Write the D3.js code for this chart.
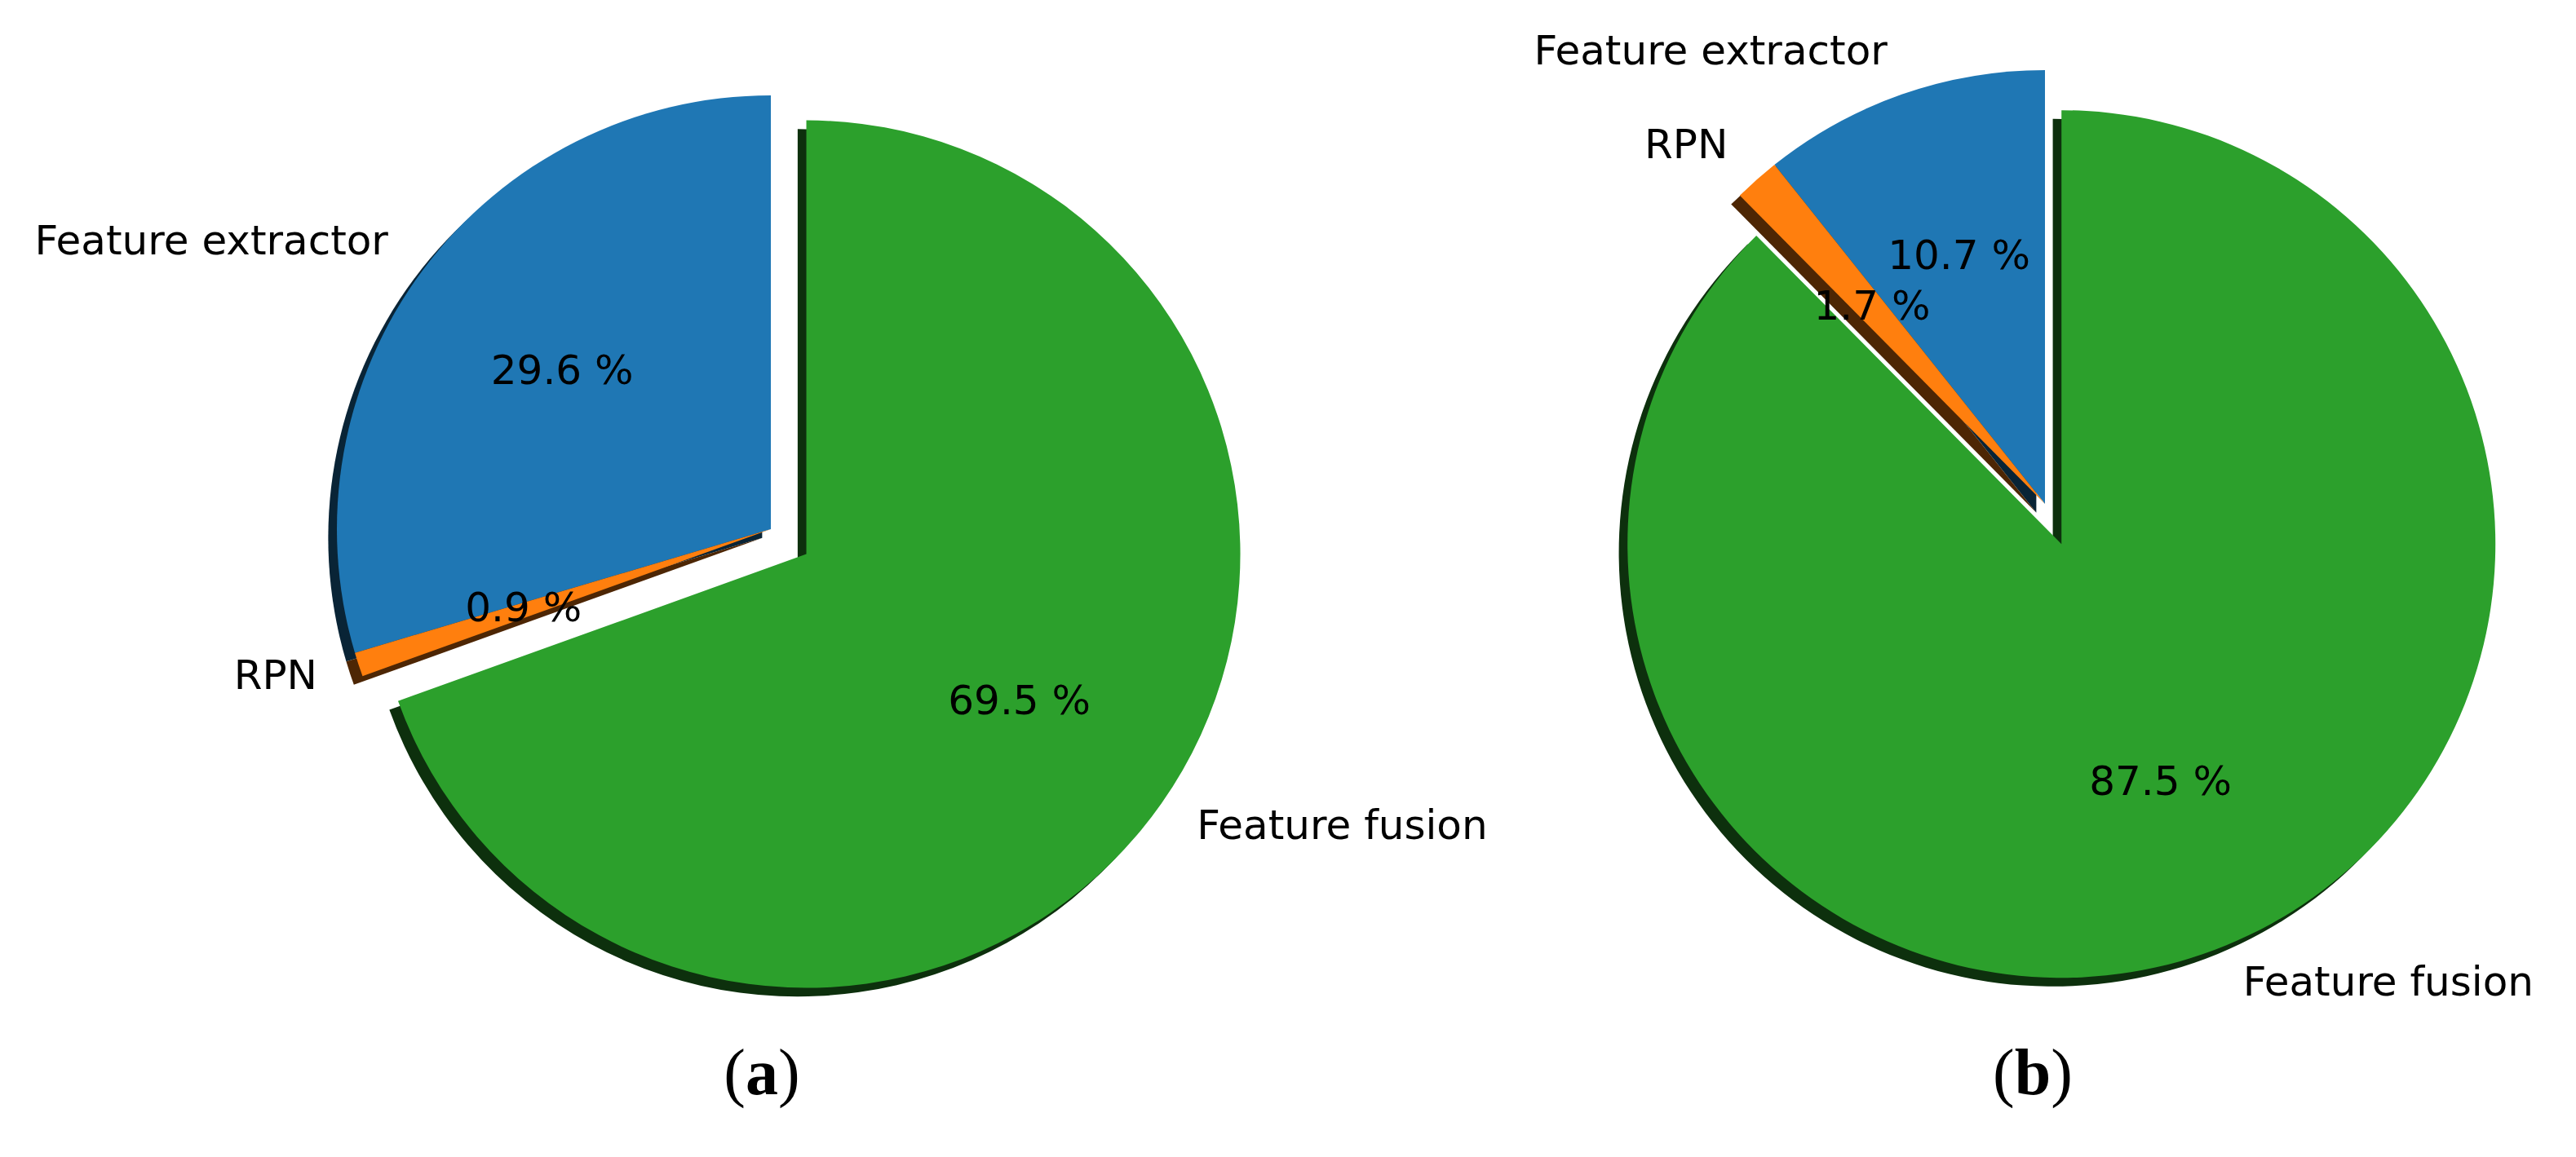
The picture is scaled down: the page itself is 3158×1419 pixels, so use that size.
<!DOCTYPE html>
<html>
<head>
<meta charset="utf-8">
<title>Runtime share pies</title>
<script src="https://d3js.org/d3.v7.min.js"></script>
<style>
  body { margin:0; background:#fff; }
  text { font-family: "DejaVu Sans", sans-serif; fill:#000; }
  .caption { font-family: "Liberation Serif", serif; }
</style>
</head>
<body>
<script>
// data
var labels = ["Feature extractor", "RPN", "Feature fusion"];
var colors = ["#1f77b4", "#ff7f0e", "#2ca02c"];
var valuesA = [29.6, 0.9, 69.5];
var valuesB = [10.7, 1.7, 87.5];
var explode = [0, 0, 0.1];
var captions = ["a", "b"];

var W = 3158, H = 1419;
var radius = 532;
var fs = 50;

var svg = d3.select("body").append("svg")
    .attr("width", W).attr("height", H);
svg.append("rect").attr("width", W).attr("height", H).attr("fill", "#fff");

// matplotlib style: start at top, go counterclockwise
var pie = d3.pie().sort(null).startAngle(0).endAngle(-2 * Math.PI);
var arc = d3.arc().innerRadius(0).outerRadius(radius);

function shade(c) {
    var r = d3.rgb(c);
    return d3.rgb(r.r * 0.3, r.g * 0.3, r.b * 0.3);
}

function drawPie(values, cx, cy, capX, cap) {
    var g = svg.append("g").attr("transform", "translate(" + cx + "," + cy + ")");
    var arcs = pie(values);
    arcs.forEach(function(d, i) {
        var m = (d.startAngle + d.endAngle) / 2;
        d.ux = Math.sin(m);
        d.uy = -Math.cos(m);
        d.ox = explode[i] * radius * d.ux;
        d.oy = explode[i] * radius * d.uy;
    });
    var sh = 0.02 * radius;

    // shadows below all wedges
    g.append("g").selectAll("path").data(arcs).enter().append("path")
        .attr("d", arc)
        .attr("transform", function(d) { return "translate(" + (d.ox - sh) + "," + (d.oy + sh) + ")"; })
        .attr("fill", function(d, i) { return shade(colors[i]); });

    g.append("g").selectAll("path").data(arcs).enter().append("path")
        .attr("d", arc)
        .attr("transform", function(d) { return "translate(" + d.ox + "," + d.oy + ")"; })
        .attr("fill", function(d, i) { return colors[i]; });

    // percentages
    g.append("g").selectAll("text").data(arcs).enter().append("text")
        .attr("x", function(d) { return d.ox + 0.6 * radius * d.ux; })
        .attr("y", function(d) { return d.oy + 0.6 * radius * d.uy; })
        .attr("dy", 0.26 * fs)
        .attr("text-anchor", "middle")
        .style("font-size", fs + "px")
        .text(function(d) { return d.value.toFixed(1) + " %"; });

    // names
    g.append("g").selectAll("text").data(arcs).enter().append("text")
        .attr("x", function(d) { return d.ox + 1.1 * radius * d.ux; })
        .attr("y", function(d) { return d.oy + 1.1 * radius * d.uy; })
        .attr("dy", 0.26 * fs)
        .attr("text-anchor", function(d) { return d.ux < 0 ? "end" : "start"; })
        .style("font-size", fs + "px")
        .text(function(d, i) { return labels[i]; });

    var t = svg.append("text").attr("class", "caption")
        .attr("x", capX).attr("y", 1342)
        .attr("text-anchor", "middle")
        .style("font-size", "80px");
    t.append("tspan").text("(");
    t.append("tspan").style("font-weight", "bold").text(cap);
    t.append("tspan").text(")");
}

drawPie(valuesA, 945, 649, 934, captions[0]);
drawPie(valuesB, 2507, 618, 2492, captions[1]);
</script>
</body>
</html>
